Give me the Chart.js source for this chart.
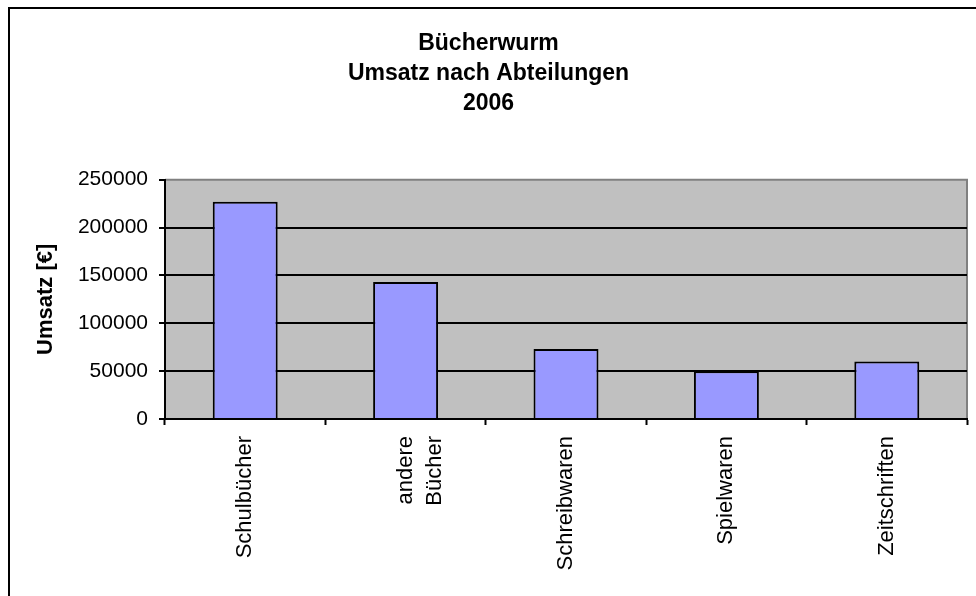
<!DOCTYPE html>
<html>
<head>
<meta charset="utf-8">
<script src="https://cdn.jsdelivr.net/npm/chart.js@4/dist/chart.umd.min.js"></script>
<style>
    html, body { margin: 0; padding: 0; background: #fff; overflow: hidden; }
    #frame {
        position: absolute; left: 8px; top: 7px; width: 1000px; height: 640px;
        border: 2px solid #000;
    }
    #wrap { position: absolute; left: 0; top: 0; width: 976px; height: 596px; }
</style>
</head>
<body>
<div id="frame"></div>
<div id="wrap"><canvas id="umsatzChart" width="976" height="596"></canvas></div>
<script>
// Daten
const abteilungen = ['Schulbücher', ['andere', 'Bücher'], 'Schreibwaren', 'Spielwaren', 'Zeitschriften'];
const umsatz = [227000, 143000, 73000, 50000, 60000];
const yTicks = [0, 50000, 100000, 150000, 200000, 250000];
const titel = ['Bücherwurm', 'Umsatz nach Abteilungen', '2006'];

const FONT = "'Liberation Sans', Arial, sans-serif";

// grauer Hintergrund der Zeichnungsfläche + grauer Rahmen oben/rechts
const plotArea = {
    id: 'plotArea',
    beforeDraw(chart) {
        const { ctx, chartArea: a } = chart;
        ctx.save();
        ctx.fillStyle = '#C0C0C0';
        ctx.fillRect(a.left, a.top, a.right - a.left, a.bottom - a.top);
        ctx.strokeStyle = '#808080';
        ctx.lineWidth = 2;
        ctx.beginPath();
        ctx.moveTo(a.left, a.top);
        ctx.lineTo(a.right, a.top);
        ctx.lineTo(a.right, a.bottom);
        ctx.stroke();
        ctx.restore();
    }
};

const ctx = document.getElementById('umsatzChart').getContext('2d');
new Chart(ctx, {
    type: 'bar',
    data: {
        labels: abteilungen,
        datasets: [{
            label: 'Umsatz',
            data: umsatz,
            backgroundColor: '#9999FF',
            borderColor: '#000000',
            borderWidth: 2,
            barPercentage: 0.405,
            categoryPercentage: 1.0
        }]
    },
    options: {
        responsive: false,
        animation: false,
        devicePixelRatio: 1,
        layout: { padding: { left: 10, right: 9, top: 0, bottom: 0 } },
        plugins: {
            legend: { display: false },
            tooltip: { enabled: false },
            title: {
                display: true,
                text: titel,
                color: '#000',
                font: { family: FONT, size: 23, weight: 'bold', lineHeight: 1.3 },
                padding: { top: 29, bottom: 61 }
            }
        },
        scales: {
            x: {
                offset: true,
                grid: {
                    offset: true,
                    drawOnChartArea: false,
                    drawTicks: true,
                    tickLength: 6,
                    tickColor: '#000',
                    tickWidth: 2
                },
                border: { color: '#000', width: 2 },
                ticks: {
                    color: '#000',
                    font: { family: FONT, size: 22, lineHeight: 1.35 },
                    minRotation: 90,
                    maxRotation: 90,
                    autoSkip: false,
                    padding: 11
                },
                afterFit(scale) { scale.height = 177; }
            },
            y: {
                min: 0,
                max: 250000,
                afterBuildTicks(scale) { scale.ticks = yTicks.map(v => ({ value: v })); },
                grid: {
                    color: (c) => c.tick && c.tick.value === 250000 ? 'rgba(0,0,0,0)' : '#000',
                    lineWidth: 2,
                    tickLength: 6,
                    tickColor: '#000',
                    tickWidth: 2
                },
                border: { color: '#000', width: 2 },
                ticks: {
                    color: '#000',
                    font: { family: FONT, size: 21 },
                    padding: 11,
                    callback: (v) => String(v)
                },
                title: {
                    display: true,
                    text: 'Umsatz [€]',
                    color: '#000',
                    font: { family: FONT, size: 22, weight: 'bold' },
                    padding: { top: 23, bottom: 0 }
                },
                afterFit(scale) { scale.width = 155; }
            }
        }
    },
    plugins: [plotArea]
});
</script>
</body>
</html>
